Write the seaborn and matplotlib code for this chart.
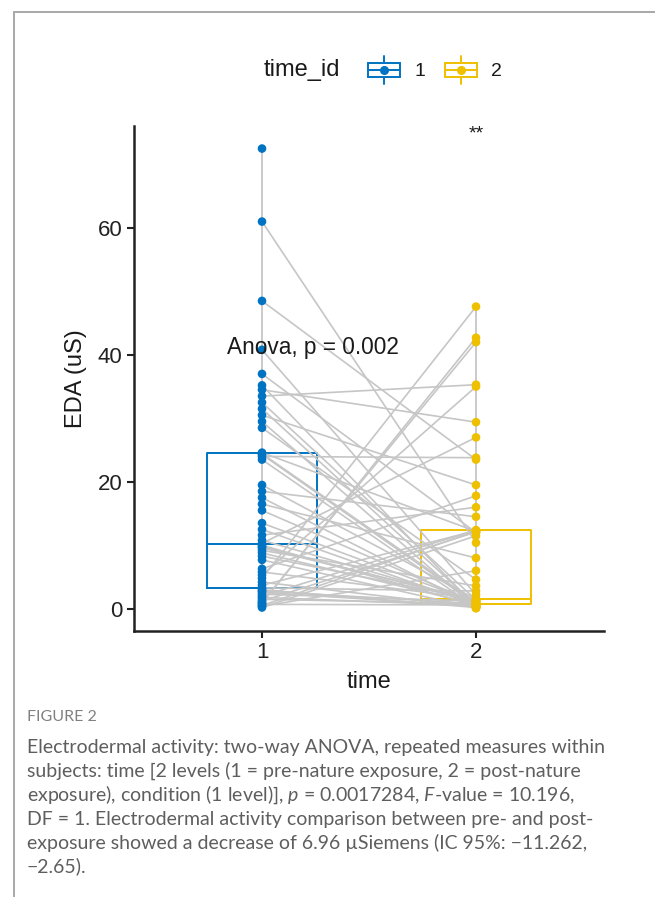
import matplotlib
matplotlib.use("Agg")
import matplotlib.pyplot as plt
import seaborn as sns
import numpy as np
import pandas as pd
from matplotlib.legend_handler import HandlerBase
from matplotlib.patches import Rectangle
from matplotlib.lines import Line2D

# ---------------- data ----------------
time_levels = ["1", "2"]
eda_time1 = [72.5, 61.0, 48.5, 40.8, 37.0, 35.2, 34.5, 33.5, 32.5, 31.5,
             30.5, 29.5, 28.5, 24.45, 24.6, 24.3, 24.0, 23.5, 19.5, 18.5,
             17.5, 16.5, 15.5, 13.5, 12.5, 11.6, 10.8, 10.3, 10.0, 9.8,
             9.6, 9.2, 8.8, 8.3, 7.7, 6.3, 5.8, 5.3, 4.8, 4.2,
             3.7, 3.3, 3.0, 2.8, 2.6, 2.3, 2.0, 1.8, 1.5, 1.2,
             1.0, 0.9, 0.7, 0.5, 0.4, 0.2]
eda_time2 = [np.nan, 10.4, 23.5, 2.2, 12.0, 0.3, 29.4, 35.3, 1.4, 0.6,
             19.5, 0.1, 4.6, 1.0, 12.2, 0.7, 23.8, 0.2, 1.5, 14.5,
             0.4, 8.0, 0.9, 1.0, 0.6, 16.0, 1.1, 27.0, 0.5, 1.2,
             1.3, 3.6, 0.7, 1.4, 0.1, 17.8, 1.6, 35.0, 47.6, 0.3,
             12.3, 2.8, 0.2, 0.8, 0.4, 1.2, 12.4, 0.5, 0.8, 12.1,
             42.0, 42.7, 0.6, 12.25, 6.0, 11.5]
stat_label = "Anova, p = 0.002"
signif_label = "**"
y_ticks = [0, 20, 40, 60]
palette = {"1": "#0073C2", "2": "#EFC000"}
line_grey = "#c6c6c6"

caption_title = "FIGURE 2"
caption_lines = [
    "Electrodermal activity: two-way ANOVA, repeated measures within",
    "subjects: time [2 levels (1 = pre-nature exposure, 2 = post-nature",
    "exposure), condition (1 level)], $p$ = 0.0017284, $F$-value = 10.196,",
    "DF = 1. Electrodermal activity comparison between pre- and post-",
    "exposure showed a decrease of 6.96 \u00b5Siemens (IC 95%: \u221211.262,",
    "\u22122.65).",
]

n = len(eda_time1)
df = pd.DataFrame({
    "subject": list(range(n)) * 2,
    "time": ["1"] * n + ["2"] * n,
    "EDA": eda_time1 + eda_time2,
})
df = df.dropna(subset=["EDA"])
df["pos"] = df["time"].map({t: i for i, t in enumerate(time_levels)})

# ---------------- style ----------------
sns.set_theme(style="white")
plt.rcParams["font.family"] = ["Liberation Sans", "DejaVu Sans"]
plt.rcParams["mathtext.fontset"] = "custom"
plt.rcParams["mathtext.rm"] = "Lato"
plt.rcParams["mathtext.it"] = "Lato:italic"

W, H = 655, 897
fig = plt.figure(figsize=(W / 100, H / 100), dpi=100)
fig.patch.set_facecolor("white")

ax_l, ax_r, ax_t, ax_b = 133.6, 604.4, 125.7, 631.0
ax = fig.add_axes([ax_l / W, 1 - ax_b / H, (ax_r - ax_l) / W, (ax_b - ax_t) / H])
ax.set_facecolor("white")

sns.boxplot(data=df, x="time", y="EDA", hue="time", order=time_levels,
            hue_order=time_levels, palette=palette, fill=False, width=0.51,
            whis=0, showcaps=False, showfliers=False, linewidth=1.4,
            legend=False, dodge=False, ax=ax)

mins = df.groupby("pos")["EDA"].min()
maxs = df.groupby("pos")["EDA"].max()
ax.vlines(mins.index, mins.values, maxs.values, colors=line_grey, lw=1.3, zorder=2)

sns.lineplot(data=df, x="pos", y="EDA", units="subject", estimator=None,
             color=line_grey, lw=1.2, ax=ax, legend=False, zorder=2.5)

sns.stripplot(data=df, x="time", y="EDA", hue="time", order=time_levels,
              hue_order=time_levels, palette=palette, jitter=False, size=6.2,
              linewidth=0, legend=False, ax=ax, zorder=3)

ax.text(-0.164, 41.1, stat_label, ha="left", va="center", fontsize=16.3,
        color="#1a1a1a", zorder=5)
ax.text(1, 74.8, signif_label, ha="center", va="center", fontsize=14,
        color="#1a1a1a", zorder=5)

ax.set_xlim(-0.6, 1.6)
ax.set_ylim(-3.5, 76.1)
ax.set_xticks([0, 1], time_levels)
ax.set_yticks(y_ticks)
ax.set_xlabel("time", fontsize=17, color="#1a1a1a", labelpad=6)
ax.set_ylabel("EDA (uS)", fontsize=17, color="#1a1a1a", labelpad=8)
for s in ["top", "right"]:
    ax.spines[s].set_visible(False)
for s in ["left", "bottom"]:
    ax.spines[s].set_color("#222222")
    ax.spines[s].set_linewidth(1.8)
ax.tick_params(axis="both", length=5, width=1.5, color="#222222",
               labelsize=16, labelcolor="#222222", pad=3, direction="out",
               left=True, bottom=True)
ax.grid(False)


# ---------------- legend ----------------
class BoxGlyph(HandlerBase):
    def create_artists(self, legend, orig_handle, xdescent, ydescent,
                       width, height, fontsize, trans):
        c = orig_handle.get_color()
        x0, y0 = -xdescent, -ydescent
        bw, bh = width * 0.94, height * 0.6
        bx = x0 + (width - bw) / 2
        by = y0 + (height - bh) / 2
        cx, cy = x0 + width / 2, y0 + height / 2
        arts = [
            Rectangle((bx, by), bw, bh, fill=False, ec=c, lw=1.4, transform=trans),
            Line2D([bx, bx + bw], [cy, cy], color=c, lw=1.4, transform=trans),
            Line2D([cx, cx], [y0 - height * 0.05, by], color=c, lw=1.4, transform=trans),
            Line2D([cx, cx], [by + bh, y0 + height * 1.05], color=c, lw=1.4, transform=trans),
            Line2D([cx], [cy], marker="o", ms=5.5, color=c, mec=c, transform=trans),
        ]
        return arts


handles = [Line2D([], [], color=palette[t]) for t in time_levels]
leg_y = 1 - 70 / H
fig.text(340 / W, leg_y, "time_id", ha="right", va="center", fontsize=17,
         color="#1a1a1a")
fig.legend(handles, time_levels, loc="center left",
           bbox_to_anchor=(350 / W, leg_y), ncol=2, frameon=False,
           handler_map={Line2D: BoxGlyph()}, handlelength=1.7,
           handleheight=1.6, handletextpad=0.7, columnspacing=1.0,
           fontsize=14, labelcolor="#1a1a1a")

# ---------------- frame lines ----------------
fig.add_artist(Line2D([14 / W, 1], [1 - 12 / H, 1 - 12 / H], color="#a8a8a8",
                      lw=1.4, transform=fig.transFigure))
fig.add_artist(Line2D([14 / W, 14 / W], [0, 1 - 12 / H], color="#a8a8a8",
                      lw=1.4, transform=fig.transFigure))

# ---------------- caption ----------------
fig.text(27 / W, 1 - 717 / H, caption_title, ha="left", va="center",
         fontsize=11.5, color="#808080", family=["Lato", "DejaVu Sans"])
line_y = [748, 771, 795, 819, 843, 866]
for y, txt in zip(line_y, caption_lines):
    fig.text(27 / W, 1 - y / H, txt, ha="left", va="center", fontsize=14,
             color="#5e5e5e", family=["Lato", "DejaVu Sans"])

fig.savefig("out.png", dpi=100, facecolor="white")
